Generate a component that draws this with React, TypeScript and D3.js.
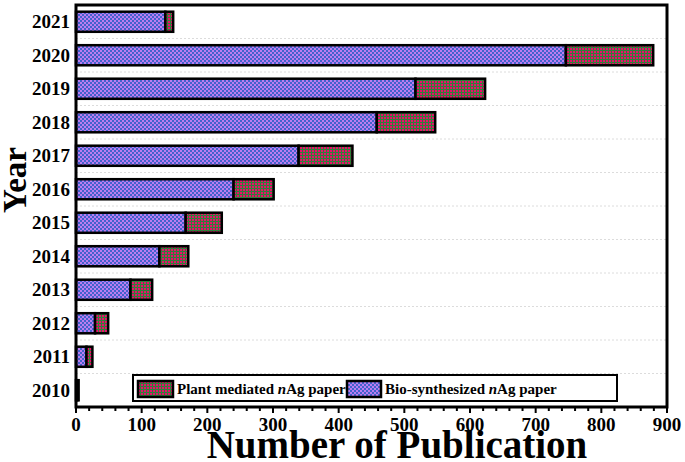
import React from "react";
import * as d3 from "d3";

const years = ["2010", "2011", "2012", "2013", "2014", "2015", "2016", "2017", "2018", "2019", "2020", "2021"];
const bioValues = [2, 16, 29, 83, 127, 167, 240, 339, 458, 517, 746, 136];
const plantValues = [2, 9, 20, 33, 44, 55, 61, 82, 89, 106, 133, 12];
const xTicks = [0, 100, 200, 300, 400, 500, 600, 700, 800, 900];

const W = 685, H = 462;
const L = 76, R = 667, T = 5, B = 407;
const FONT = "'Liberation Serif', 'Times New Roman', serif";

export default function App() {
  const x = d3.scaleLinear().domain([0, 900]).range([L, R]);
  const y = d3.scaleBand<string>().domain([...years].reverse()).range([T, B]).paddingInner(0.4).paddingOuter(0.2);
  const step = y.step();
  const rows = years.map((yr, i) => ({ year: yr, bio: bioValues[i], plant: plantValues[i] }));
  const stack = d3.stack<any>().keys(["bio", "plant"])(rows);
  const minorTicks = d3.range(0, 901, 20);
  const fills = ["url(#bioPat)", "url(#plantPat)"];
  const gridYs = d3.range(1, years.length).map((k) => T + k * step);

  return (
    <svg width={W} height={H} style={{ position: "absolute", left: 0, top: 0, background: "#fff" }} fontFamily={FONT}>
      <defs>
        <pattern id="bioPat" width="4" height="4" patternUnits="userSpaceOnUse">
          <rect width="4" height="4" fill="#bb7df0" />
          <rect width="2" height="2" fill="#4262cc" />
          <rect x="2" y="2" width="2" height="2" fill="#4262cc" />
        </pattern>
        <pattern id="plantPat" width="3" height="3" patternUnits="userSpaceOnUse">
          <rect width="3" height="3" fill="#e8106a" />
          <rect x="2" width="1" height="3" fill="#327d3a" />
          <rect y="2" width="3" height="1" fill="#327d3a" />
        </pattern>
      </defs>
      <rect x={0} y={0} width={W} height={H} fill="#fff" />
      {gridYs.map((gy, i) => (
        <line key={i} x1={L} x2={R} y1={gy} y2={gy} stroke="#dcdcdc" strokeWidth={1} strokeDasharray="2,2" />
      ))}
      {stack.map((s, si) => (
        <g key={si}>
          {s.map((d: any, i: number) => {
            const v = d[1] - d[0];
            if (v <= 0) return null;
            const yy = y(d.data.year)!;
            return (
              <rect key={i} x={x(d[0])} y={yy} width={x(d[1]) - x(d[0])} height={y.bandwidth()}
                fill={fills[si]} stroke="#000" strokeWidth={2.5} />
            );
          })}
        </g>
      ))}
      <rect x={L} y={T} width={R - L} height={B - T} fill="none" stroke="#000" strokeWidth={3} />
      {minorTicks.map((t) => (
        <line key={t} x1={x(t)} x2={x(t)} y1={B} y2={B + (t % 100 === 0 ? 6 : 4)} stroke="#000" strokeWidth={2} />
      ))}
      {xTicks.map((t) => (
        <text key={t} x={x(t)} y={431} textAnchor="middle" fontSize={19} fontWeight="bold">{t}</text>
      ))}
      {years.map((yr) => (
        <text key={yr} x={70} y={y(yr)! + y.bandwidth() / 2 + 6.5} textAnchor="end" fontSize={19} fontWeight="bold">{yr}</text>
      ))}
      <text x={397} y={458} textAnchor="middle" fontSize={39} fontWeight="bold">Number of Publication</text>
      <text transform={`translate(26,180) rotate(-90)`} textAnchor="middle" fontSize={33} fontWeight="bold">Year</text>
      <g>
        <rect x={133} y={375} width={484} height={26} fill="#fff" stroke="#000" strokeWidth={2} />
        <rect x={138} y={381} width={35} height={16} fill={fills[1]} stroke="#000" strokeWidth={2.5} />
        <text x={177} y={394} fontSize={15} fontWeight="bold">Plant mediated <tspan fontStyle="italic">n</tspan>Ag paper</text>
        <rect x={347} y={381} width={34} height={16} fill={fills[0]} stroke="#000" strokeWidth={2.5} />
        <text x={385} y={394} fontSize={15} fontWeight="bold">Bio-synthesized <tspan fontStyle="italic">n</tspan>Ag paper</text>
      </g>
    </svg>
  );
}
